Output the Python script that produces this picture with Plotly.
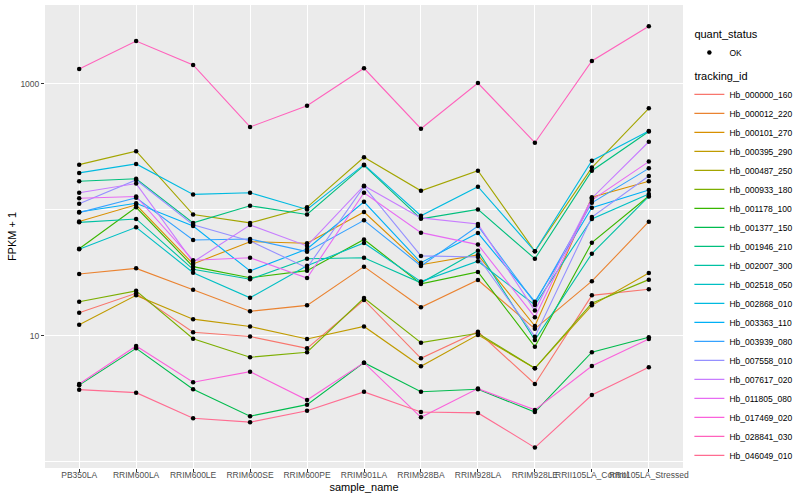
import plotly.graph_objects as go

samples = ["PB350LA", "RRIM600LA", "RRIM600LE", "RRIM600SE", "RRIM600PE", "RRIM901LA",
           "RRIM928BA", "RRIM928LA", "RRIM928LE", "RRII105LA_Control", "RRII105LA_Stressed"]

tracking_ids = ["Hb_000000_160", "Hb_000012_220", "Hb_000101_270", "Hb_000395_290", "Hb_000487_250",
                "Hb_000933_180", "Hb_001178_100", "Hb_001377_150", "Hb_001946_210", "Hb_002007_300",
                "Hb_002518_050", "Hb_002868_010", "Hb_003363_110", "Hb_003939_080", "Hb_007558_010",
                "Hb_007617_020", "Hb_011805_080", "Hb_017469_020", "Hb_028841_030", "Hb_046049_010"]

colors = ["#F8766D", "#EA8331", "#D89000", "#C09B00", "#A3A500", "#7CAE00", "#39B600", "#00BB4E",
          "#00BF7D", "#00C1A3", "#00BFC4", "#00BAE0", "#00B0F6", "#35A2FF", "#9590FF", "#C77CFF",
          "#E76BF3", "#FA62DB", "#FF62BC", "#FF6C91"]

# FPKM + 1 per tracking id, in sample order
Hb_000000_160 = [15.3, 21.8, 10.7, 9.9, 7.98, 19.3, 6.65, 10.8, 4.16, 21.0, 23.5]
Hb_000012_220 = [31.0, 34.4, 23.3, 15.7, 17.5, 35.5, 16.9, 27.8, 11.4, 27.2, 80.7]
Hb_000101_270 = [81.1, 110, 37.3, 56.0, 54.4, 96.4, 36.8, 44.0, 12.0, 126, 169]
Hb_000395_290 = [12.3, 21.0, 13.6, 11.9, 9.46, 11.9, 5.75, 10.2, 5.54, 17.5, 31.6]
Hb_000487_250 = [229, 293, 92, 79, 105, 262, 142, 205, 47, 217, 641]
Hb_000933_180 = [18.7, 22.8, 9.52, 6.78, 7.43, 20.0, 8.85, 10.5, 5.54, 18.2, 28.0]
Hb_001178_100 = [49.3, 105, 35.5, 29.0, 33.0, 58.3, 25.9, 32.2, 8.22, 55.0, 129]
Hb_001377_150 = [4.07, 7.98, 3.78, 2.31, 2.85, 6.14, 3.61, 3.78, 2.49, 7.43, 9.77]
Hb_001946_210 = [169, 177, 79, 108, 92, 226, 85, 101, 41, 205, 420]
Hb_002007_300 = [79.8, 84.9, 33.8, 28.2, 41.0, 41.8, 26.4, 47.5, 9.29, 45.0, 128]
Hb_002518_050 = [48.8, 72.9, 31.8, 20.1, 36.1, 54.7, 27.0, 39.2, 17.6, 84.9, 134]
Hb_002868_010 = [197, 232, 133, 137, 101, 229, 90, 153, 47, 246, 423]
Hb_003363_110 = [96.4, 113, 74.6, 32.8, 49.0, 116, 38.2, 65.6, 18.7, 104, 144]
Hb_003939_080 = [95.3, 125, 57.8, 58.9, 46.7, 82.8, 35.9, 74.6, 18.3, 114, 214]
Hb_007558_010 = [112, 173, 76.4, 56.8, 34.7, 154, 43.2, 42.4, 9.87, 87.9, 186]
Hb_007617_020 = [137, 162, 38.6, 76.0, 51.8, 156, 86.5, 77.4, 15.9, 124, 348]
Hb_011805_080 = [124, 128, 39.9, 41.8, 28.8, 137, 66.1, 53.1, 14.1, 120, 242]
Hb_017469_020 = [4.16, 8.33, 4.29, 5.21, 3.10, 6.14, 2.26, 3.82, 2.59, 5.78, 9.46]
Hb_028841_030 = [1315, 2193, 1416, 456, 673, 1333, 442, 1018, 342, 1524, 2872]
Hb_046049_010 = [3.75, 3.55, 2.22, 2.07, 2.55, 3.6, 2.49, 2.45, 1.30, 3.40, 5.65]

series = [Hb_000000_160, Hb_000012_220, Hb_000101_270, Hb_000395_290, Hb_000487_250,
          Hb_000933_180, Hb_001178_100, Hb_001377_150, Hb_001946_210, Hb_002007_300,
          Hb_002518_050, Hb_002868_010, Hb_003363_110, Hb_003939_080, Hb_007558_010,
          Hb_007617_020, Hb_011805_080, Hb_017469_020, Hb_028841_030, Hb_046049_010]

quant_status = "OK"

fig = go.Figure()

for name, vals, col in zip(tracking_ids, series, colors):
    fig.add_trace(go.Scatter(
        x=samples, y=vals, mode="lines", name=name,
        line=dict(color=col, width=1.1),
        legendgroup="tracking_id",
        legendgrouptitle=dict(text="tracking_id", font=dict(size=11, color="black")),
        legendrank=2,
    ))

all_x, all_y = [], []
for vals in series:
    all_x += samples
    all_y += vals
fig.add_trace(go.Scatter(
    x=all_x, y=all_y, mode="markers", name=quant_status,
    marker=dict(color="black", size=4.5),
    legendgroup="quant_status",
    legendgrouptitle=dict(text="quant_status", font=dict(size=11, color="black")),
    legendrank=1,
))

fig.update_layout(
    width=800, height=500,
    margin=dict(l=45, r=117, t=5, b=32, autoexpand=False),
    paper_bgcolor="white",
    plot_bgcolor="#EBEBEB",
    font=dict(family="Liberation Sans, Arial, sans-serif", size=9, color="black"),
    showlegend=True,
    legend=dict(
        x=1.01, xanchor="left", y=0.97, yanchor="top",
        font=dict(size=8.5, color="black"),
        tracegroupgap=4,
        traceorder="grouped",
        itemwidth=30,
        bgcolor="rgba(0,0,0,0)",
    ),
    xaxis=dict(
        type="category", categoryorder="array", categoryarray=samples,
        range=[-0.6, 10.6],
        showgrid=True, gridcolor="white", gridwidth=1,
        ticks="outside", ticklen=3, tickcolor="#333333",
        tickangle=0, automargin=False,
        ticklabelstandoff=-4,
        tickfont=dict(size=8.5, color="#4D4D4D"),
        title=dict(text="sample_name", font=dict(size=11, color="black"), standoff=4),
        zeroline=False, showline=False,
    ),
    yaxis=dict(
        type="log",
        range=[-0.048, 3.627],
        tickvals=[10, 1000], ticktext=["10", "1000"],
        showgrid=True, gridcolor="white", gridwidth=1,
        minor=dict(tickvals=[1, 100], showgrid=True, gridcolor="white", gridwidth=0.5, ticklen=0),
        ticks="outside", ticklen=3, tickcolor="#333333",
        automargin=False,
        tickfont=dict(size=8.5, color="#4D4D4D"),
        title=dict(text="FPKM + 1", font=dict(size=11, color="black"), standoff=1),
        zeroline=False, showline=False,
    ),
)

fig.write_html("out.html", config={"displayModeBar": False},
               post_script="document.body.style.margin='0';")
